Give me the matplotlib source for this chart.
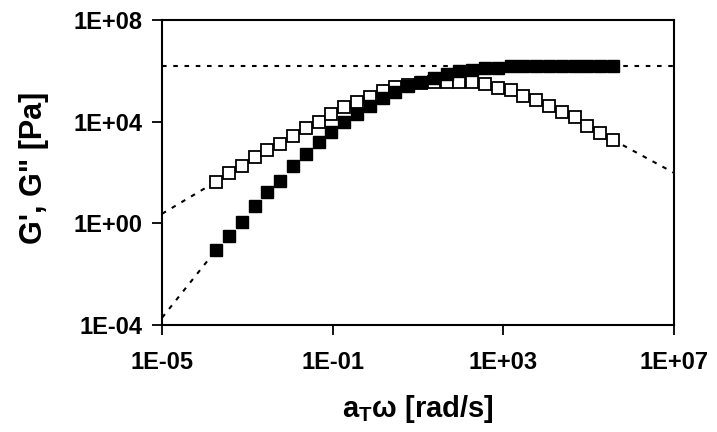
import numpy as np
import matplotlib.pyplot as plt

plt.rcParams['font.family'] = ['Liberation Sans', 'DejaVu Sans']
plt.rcParams['mathtext.fontset'] = 'custom'
plt.rcParams['mathtext.rm'] = 'Liberation Sans'
plt.rcParams['mathtext.bf'] = 'Liberation Sans:bold'
plt.rcParams['mathtext.it'] = 'Liberation Sans:italic'

# log10 of reduced frequency (rad/s)
log_w = [-3.73, -3.43, -3.13, -2.83, -2.53, -2.23, -1.93, -1.63, -1.33, -1.03,
         -0.73, -0.43, -0.13, 0.17, 0.47, 0.77, 1.07, 1.37, 1.67, 1.97,
         2.27, 2.57, 2.87, 3.17, 3.47, 3.77, 4.07, 4.37, 4.67, 4.97,
         5.27, 5.57]
# log10 of G' (storage modulus, filled)
log_g1 = [-1.05, -0.50, 0.04, 0.68, 1.23, 1.66, 2.27, 2.73, 3.20, 3.59,
          3.99, 4.30, 4.62, 4.92, 5.17, 5.40, 5.54, 5.72, 5.87, 5.99,
          6.03, 6.11, 6.11, 6.19, 6.19, 6.19, 6.19, 6.19, 6.19, 6.19,
          6.19, 6.19]
# log10 of G" (loss modulus, open)
log_g2 = [1.64, 1.97, 2.27, 2.60, 2.88, 3.12, 3.45, 3.76, 4.00, 4.30,
          4.56, 4.78, 4.97, 5.22, 5.37, 5.44, 5.52, 5.57, 5.57, 5.57,
          5.57, 5.48, 5.31, 5.24, 5.02, 4.85, 4.62, 4.39, 4.19, 3.84,
          3.54, 3.28]

plateau = 10 ** 6.19
# model extensions (terminal and high-frequency zones)
ext_g1_x = [1e-5, 10 ** -3.73]
ext_g1_y = [10 ** -3.72, 10 ** -1.05]
ext_g2_x = [1e-5, 10 ** -3.73]
ext_g2_y = [10 ** 0.37, 10 ** 1.64]
ext_hi_x = [10 ** 5.57, 1e7]
ext_hi_y = [10 ** 3.28, 10 ** 1.98]

w = 10 ** np.array(log_w)
g1 = 10 ** np.array(log_g1)
g2 = 10 ** np.array(log_g2)

fig = plt.figure(figsize=(7.17, 4.32), dpi=100)
ax = fig.add_axes([0.226, 0.248, 0.714, 0.706])

dot = (0, (2.2, 3.2))
ax.plot([1e-5, 1e7], [plateau, plateau], color='black', lw=1.5, linestyle=dot, zorder=1)
ax.plot(ext_g1_x, ext_g1_y, color='black', lw=1.5, linestyle=dot, zorder=1)
ax.plot(ext_g2_x, ext_g2_y, color='black', lw=1.5, linestyle=dot, zorder=1)
ax.plot(ext_hi_x, ext_hi_y, color='black', lw=1.5, linestyle=dot, zorder=1)

ax.plot(w, g2, linestyle='none', marker='s', markersize=9, markerfacecolor='white',
        markeredgecolor='black', markeredgewidth=1.3, zorder=3)
ax.plot(w, g1, linestyle='none', marker='s', markersize=9, markerfacecolor='black',
        markeredgecolor='black', markeredgewidth=1.0, zorder=4)

ax.set_xscale('log')
ax.set_yscale('log')
ax.set_xlim(1e-5, 1e7)
ax.set_ylim(1e-4, 1e8)

xticks = [1e-5, 1e-1, 1e3, 1e7]
xlabels = ['1E-05', '1E-01', '1E+03', '1E+07']
yticks = [1e-4, 1e0, 1e4, 1e8]
ylabels = ['1E-04', '1E+00', '1E+04', '1E+08']
ax.set_xticks(xticks)
ax.set_xticklabels(xlabels)
ax.set_yticks(yticks)
ax.set_yticklabels(ylabels)
ax.minorticks_off()
ax.tick_params(direction='out', length=7, width=1.3, labelsize=17)
ax.tick_params(axis='x', pad=12)
ax.tick_params(axis='y', pad=7)
for lab in ax.get_xticklabels() + ax.get_yticklabels():
    lab.set_fontweight('bold')
for sp in ax.spines.values():
    sp.set_linewidth(1.5)

ax.set_xlabel(r'a$_{\mathbf{T}}$$\mathbf{ω}$ [rad/s]', fontsize=21, fontweight='bold')
ax.set_ylabel('G\', G" [Pa]', fontsize=22, fontweight='bold')
ax.xaxis.set_label_coords(0.5, -0.275)
ax.xaxis.label.set_va('center')
ax.yaxis.set_label_coords(-0.25, 0.515)
ax.yaxis.label.set_va('center')

fig.savefig('out.png', dpi=100)
